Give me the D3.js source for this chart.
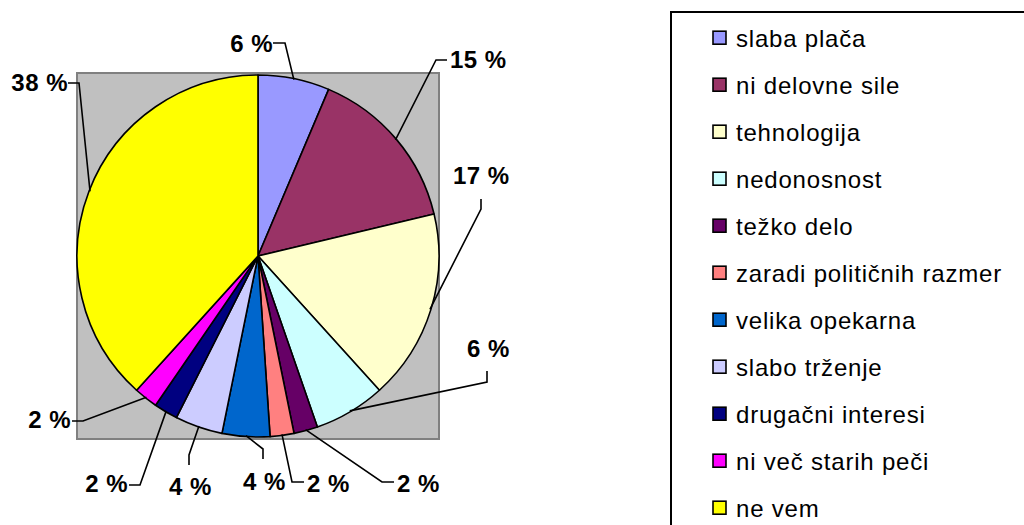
<!DOCTYPE html>
<html>
<head>
<meta charset="utf-8">
<script src="https://cdn.jsdelivr.net/npm/d3@7"></script>
<style>
  html, body { margin: 0; padding: 0; background: #fff; }
  svg { display: block; }
  text { font-family: "Liberation Sans", Arial, Helvetica, sans-serif; }
</style>
</head>
<body>
<svg id="chart" width="1024" height="525"></svg>
<script>
// ---- data ----
const categories = ["slaba plača", "ni delovne sile", "tehnologija", "nedonosnost", "težko delo",
  "zaradi političnih razmer", "velika opekarna", "slabo trženje", "drugačni interesi",
  "ni več starih peči", "ne vem"];
const counts = [3, 7, 8, 3, 1, 1, 2, 2, 1, 1, 18];
const colors = ["#9999FF", "#993366", "#FFFFCC", "#CCFFFF", "#660066", "#FF8080",
  "#0066CC", "#CCCCFF", "#000080", "#FF00FF", "#FFFF00"];

// ---- label layout (annotation placement: text x, baseline, anchor, leader elbow start/end) ----
const labelLayout = [
  { x: 273, y: 52, anchor: "end",   e1: [273, 43],  e2: [285, 43] },
  { x: 450, y: 68, anchor: "start", e1: [447, 60],  e2: [436, 60] },
  { x: 453, y: 184, anchor: "start", e1: [481, 199], e2: [481, 209] },
  { x: 467, y: 357, anchor: "start", e1: [487, 371], e2: [487, 382] },
  { x: 397, y: 492, anchor: "start", e1: [394, 482], e2: [382, 482] },
  { x: 307, y: 492, anchor: "start", e1: [304, 482], e2: [292, 482] },
  { x: 243, y: 490, anchor: "start", e1: [263, 459], e2: [263, 449] },
  { x: 169, y: 495, anchor: "start", e1: [189, 465], e2: [189, 455] },
  { x: 128, y: 492, anchor: "end",   e1: [129, 485], e2: [140, 485] },
  { x: 71,  y: 428, anchor: "end",   e1: [72, 421],  e2: [83, 421] },
  { x: 68,  y: 91,  anchor: "end",   e1: [68, 83],   e2: [79, 83] }
];

const svg = d3.select("#chart");
const cx = 258, cy = 256, r = 181;
const total = d3.sum(counts);

// plot area background
svg.append("rect")
  .attr("x", 77).attr("y", 73).attr("width", 362).attr("height", 366)
  .attr("fill", "#C0C0C0").attr("stroke", "#808080").attr("stroke-width", 2);

const pie = d3.pie().sort(null).value(d => d).startAngle(0).endAngle(2 * Math.PI);
const arcs = pie(counts);
const arc = d3.arc().innerRadius(0).outerRadius(r);
const edgeArc = d3.arc().innerRadius(r - 1).outerRadius(r - 1);

const g = svg.append("g").attr("transform", `translate(${cx},${cy})`);
g.selectAll("path.slice").data(arcs).enter().append("path")
  .attr("class", "slice")
  .attr("d", arc)
  .attr("fill", (d, i) => colors[i])
  .attr("stroke", "#000").attr("stroke-width", 1.6).attr("stroke-linejoin", "round");

// leader lines and labels
const fmt = v => Math.round(v / total * 100) + " %";
arcs.forEach((d, i) => {
  const L = labelLayout[i];
  const p = edgeArc.centroid(d);
  const pts = [L.e1, L.e2, [cx + p[0], cy + p[1]]];
  svg.append("path")
    .attr("d", d3.line()(pts))
    .attr("fill", "none").attr("stroke", "#000").attr("stroke-width", 1.6);
  svg.append("text")
    .attr("x", L.x).attr("y", L.y)
    .attr("text-anchor", L.anchor)
    .attr("font-size", 24).attr("font-weight", "bold")
    .attr("letter-spacing", 0.5)
    .attr("fill", "#000")
    .text(fmt(d.value));
});

// legend
svg.append("rect")
  .attr("x", 671).attr("y", 12).attr("width", 400).attr("height", 560)
  .attr("fill", "#fff").attr("stroke", "#000").attr("stroke-width", 2);

const legendY = d3.scalePoint().domain(categories).range([37.7, 37.7 + 47 * 10]);
const lg = svg.append("g");
categories.forEach((c, i) => {
  const y = legendY(c);
  lg.append("rect")
    .attr("x", 713).attr("y", y - 6.5).attr("width", 13).attr("height", 13)
    .attr("fill", colors[i]).attr("stroke", "#000").attr("stroke-width", 1.6);
  lg.append("text")
    .attr("x", 736).attr("y", y + 8.8)
    .attr("font-size", 24).attr("letter-spacing", 0.8).attr("fill", "#000")
    .text(c);
});
</script>
</body>
</html>
